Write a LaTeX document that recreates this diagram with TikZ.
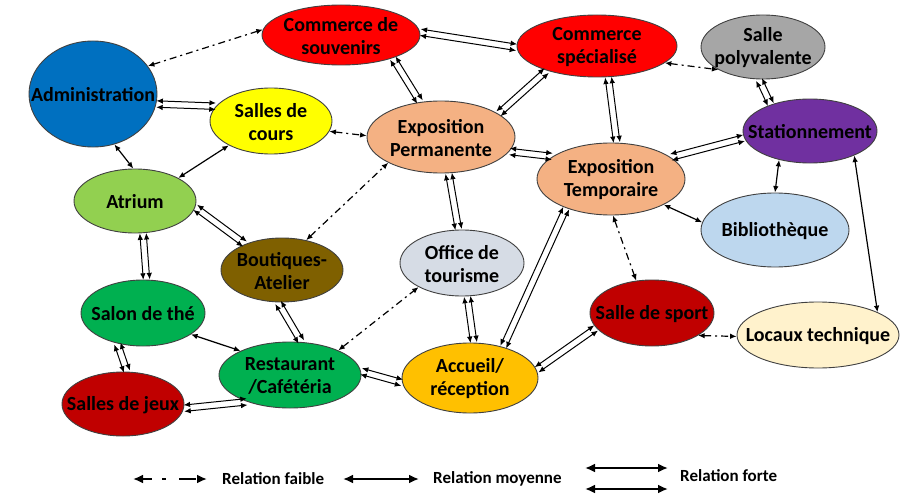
\documentclass[tikz,border=0pt]{standalone}
\usepackage{fontspec}
\setmainfont{Carlito}
\usetikzlibrary{shapes.geometric,arrows.meta,calc}
\definecolor{cRed}{HTML}{FF0000}
\definecolor{cGray}{HTML}{A6A6A6}
\definecolor{cBlue}{HTML}{0070C0}
\definecolor{cYellow}{HTML}{FFFF00}
\definecolor{cPeach}{HTML}{F4B183}
\definecolor{cLGreen}{HTML}{92D050}
\definecolor{cPurple}{HTML}{7030A0}
\definecolor{cLBlue}{HTML}{BDD7EE}
\definecolor{cBrown}{HTML}{7F6000}
\definecolor{cSilver}{HTML}{D6DCE5}
\definecolor{cGreen}{HTML}{00B050}
\definecolor{cDRed}{HTML}{C00000}
\definecolor{cOrange}{HTML}{FFC000}
\definecolor{cCream}{HTML}{FFF2CC}
\newcommand\strongedge[2]{%
  \draw[strongline] ($(#1)!3.2pt!90:(#2)$) -- ($(#2)!3.2pt!-90:(#1)$);
  \draw[strongline] ($(#1)!3.2pt!-90:(#2)$) -- ($(#2)!3.2pt!90:(#1)$);}
\begin{document}
\begin{tikzpicture}[x=1pt,y=-1pt,
  ell/.style 2 args={ellipse, draw=black!75, line width=0.9pt, inner sep=0pt,
    minimum width=#1pt, minimum height=#2pt},
  txt/.style={font=\fontsize{20}{23}\selectfont\bfseries, align=center, inner sep=0pt, yshift=-1pt},
  legtxt/.style={font=\fontsize{17}{20}\selectfont\bfseries, inner sep=0pt},
  >={Latex[length=6.5pt,width=5.5pt]},
  med/.style={<->, line width=1.2pt},
  strongline/.style={<->, line width=1pt},
  weak/.style={<->, line width=1.2pt, dash pattern=on 7pt off 4pt on 2pt off 4pt},
  legarrow/.style={{Latex[length=10pt,width=9pt]}-{Latex[length=10pt,width=9pt]}, line width=2.2pt}
]
\useasboundingbox (0,0) rectangle (913,495);

% nodes
\node[ell={158}{60}, fill=cRed, label={[txt]center:Commerce de\\souvenirs}] (cds) at (341,35) {};
\node[ell={160}{62}, fill=cRed, label={[txt]center:Commerce\\spécialisé}] (csp) at (597,46) {};
\node[ell={124}{64}, fill=cGray, label={[txt]center:Salle\\polyvalente}] (spo) at (763,47) {};
\node[ell={128}{106}, fill=cBlue, label={[txt]center:Administration}] (adm) at (93,94) {};
\node[ell={122}{66}, fill=cYellow, label={[txt]center:Salles de\\cours}] (sdc) at (271,121) {};
\node[ell={148}{72}, fill=cPeach, label={[txt]center:Exposition\\Permanente}] (epe) at (441,137) {};
\node[ell={122}{64}, fill=cLGreen, label={[txt]center:Atrium}] (atr) at (135,201) {};
\node[ell={148}{72}, fill=cPeach, label={[txt]center:Exposition\\Temporaire}] (ete) at (611,179) {};
\node[ell={134}{64}, fill=cPurple, label={[txt]center:Stationnement}] (sta) at (810,131) {};
\node[ell={148}{74}, fill=cLBlue, label={[txt]center:Bibliothèque}] (bib) at (775,230) {};
\node[ell={122}{64}, fill=cBrown, label={[txt]center:Boutiques-\\Atelier}] (bou) at (282,270) {};
\node[ell={124}{66}, fill=cSilver, label={[txt]center:Office de\\tourisme}] (off) at (462,263) {};
\node[ell={124}{66}, fill=cGreen, label={[txt]center:Salon de thé}] (sal) at (143,313) {};
\node[ell={142}{66}, fill=cGreen, label={[txt]center:Restaurant\\/Cafétéria}] (res) at (290,375) {};
\node[ell={122}{64}, fill=cDRed, label={[txt]center:Salles de jeux}] (jeu) at (123,404) {};
\node[ell={136}{70}, fill=cOrange, label={[txt]center:Accueil/\\réception}] (acc) at (470,378) {};
\node[ell={124}{66}, fill=cDRed, label={[txt]center:Salle de sport}] (spt) at (652,313) {};
\node[ell={162}{66}, fill=cCream, label={[txt]center:Locaux technique}] (loc) at (818,335) {};

% weak relations
\draw[weak] (adm.27) -- (cds.176);
\draw[weak] (sdc.-10) -- (epe.179);
\draw[weak] (csp.-14) -- (spo.207);
\draw[weak] (bou.51) -- (epe.206);
\draw[weak] (res.27) -- (off.209);
\draw[weak] (ete.-87) -- (spt.116);
\draw[weak] (spt.-26) -- (loc.181);

% medium relations
\draw[med] (adm.-67) -- (atr.93);
\draw[med] (atr.28) -- (sdc.210);
\draw[med] (sta.223) -- (bib.90);
\draw[med] (ete.-26) -- (bib.174);
\draw[med] (sal.-24) -- (res.154);
\draw[med] (sta.-29) -- (loc.21);

% strong relations
\strongedge{cds.2}{csp.181}
\strongedge{adm.-9}{sdc.165}
\strongedge{cds.-24}{epe.121}
\strongedge{csp.206}{epe.22}
\strongedge{csp.-70}{ete.81}
\strongedge{spo.263}{sta.146}
\strongedge{epe.-12}{ete.159}
\strongedge{ete.20}{sta.186}
\strongedge{epe.-78}{off.96}
\strongedge{atr.-6}{bou.145}
\strongedge{atr.-76}{sal.84}
\strongedge{sal.230}{jeu.83}
\strongedge{bou.263}{res.71}
\strongedge{jeu.-4}{res.212}
\strongedge{res.3}{acc.184}
\strongedge{off.-81}{acc.84}
\strongedge{ete.213}{acc.43}
\strongedge{acc.7}{spt.195}

% legend
\coordinate (w1) at (133,479); \coordinate (w2) at (207,479);
\draw[legarrow, dash pattern=on 10pt off 10pt on 4pt off 13pt on 17pt] (w1) -- (w2);
\node[legtxt, anchor=west] (lw) at (222,479) {Relation faible};
\coordinate (m1) at (343,479); \coordinate (m2) at (419,479);
\draw[legarrow] (m1) -- (m2);
\node[legtxt, anchor=west] (lm) at (433,479) {Relation moyenne};
\coordinate (f1) at (585,468); \coordinate (f2) at (668,468);
\coordinate (f3) at (585,489); \coordinate (f4) at (668,489);
\draw[legarrow] (f1) -- (f2);
\draw[legarrow] (f3) -- (f4);
\node[legtxt, anchor=west] (lf) at (680,476) {Relation forte};
\end{tikzpicture}
\end{document}
